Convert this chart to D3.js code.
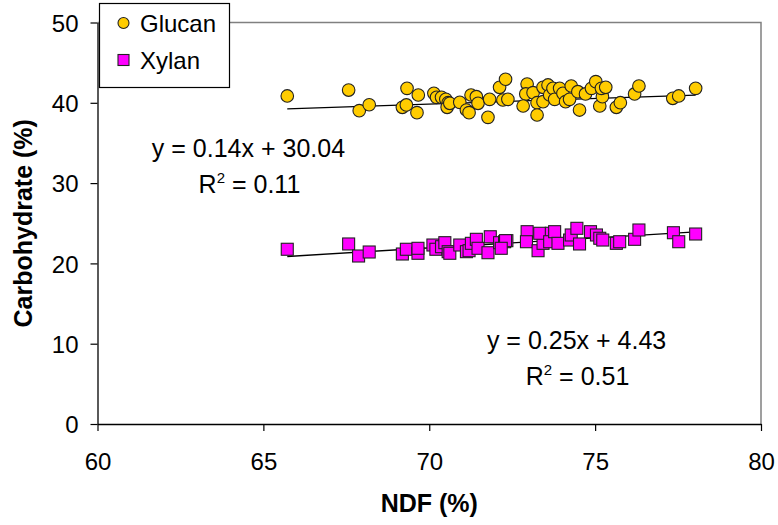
<!DOCTYPE html>
<html>
<head>
<meta charset="utf-8">
<script src="https://cdn.jsdelivr.net/npm/d3@7"></script>
<style>
  html, body { margin: 0; padding: 0; background: #fff; }
  svg { display: block; font-family: "Liberation Sans", Arial, sans-serif; }
</style>
</head>
<body>
<svg id="chart" width="778" height="525"></svg>
<script>
// NDF (%) vs glucan content (%)
const ndfGlucan = [65.72, 67.57, 67.89, 68.19, 69.19, 69.31, 69.33, 69.67, 69.63, 70.14,
  70.22, 70.37, 70.50, 70.57, 70.54, 70.62, 70.92, 71.12, 71.20, 71.26,
  71.42, 71.47, 71.77, 71.82, 72.12, 72.30, 72.22, 72.37, 72.95, 72.91,
  72.83, 73.13, 73.25, 73.25, 73.43, 73.43, 73.58, 73.63, 73.73, 73.78,
  73.93, 74.03, 74.11, 74.23, 74.28, 74.48, 74.53, 74.71, 74.89, 75.02,
  75.14, 75.22, 75.19, 75.32, 75.64, 75.76, 76.19, 76.32, 77.34, 77.52, 78.03];
const glucan = [40.85, 41.59, 39.02, 39.76, 39.44, 39.73, 41.80, 40.97, 38.77, 41.18,
  40.68, 40.68, 40.43, 40.01, 39.44, 39.94, 40.06, 39.10, 38.77, 40.97,
  40.76, 39.94, 38.19, 40.43, 41.93, 42.93, 40.35, 40.43, 42.34, 41.10,
  39.60, 41.26, 40.01, 38.48, 41.93, 40.14, 42.22, 40.97, 41.80, 40.43,
  41.80, 41.18, 40.14, 40.43, 42.09, 41.38, 39.10, 41.10, 41.80, 42.63,
  39.60, 40.76, 41.80, 41.93, 39.44, 40.01, 41.10, 42.09, 40.56, 40.85, 41.80];

// NDF (%) vs xylan content (%)
const ndfXylan = [65.72, 67.57, 67.87, 68.19, 69.19, 69.31, 69.66, 69.66, 70.11, 70.20,
  70.37, 70.47, 70.57, 70.62, 70.92, 71.12, 71.20, 71.27, 71.42, 71.47,
  71.77, 71.84, 72.12, 72.27, 72.34, 72.30, 72.17, 72.95, 72.93, 73.28,
  73.43, 73.33, 73.68, 73.63, 73.78, 73.88, 74.23, 74.28, 74.45, 74.53,
  74.86, 75.04, 75.14, 75.23, 75.64, 75.74, 76.19, 76.32, 77.36, 77.52, 78.03];
const xylan = [21.76, 22.42, 20.92, 21.42, 21.17, 21.76, 21.26, 21.88, 22.29, 21.76,
  22.08, 22.58, 21.46, 21.26, 22.29, 21.46, 21.58, 22.50, 23.00, 21.88,
  21.33, 23.32, 22.58, 22.70, 22.83, 22.83, 21.88, 23.95, 22.70, 21.58,
  22.50, 23.75, 23.75, 22.70, 23.95, 22.50, 22.91, 23.54, 24.37, 22.42,
  23.95, 23.54, 23.13, 22.91, 22.50, 22.70, 23.00, 24.16, 23.82, 22.70, 23.66];

// Linear trendlines: slope, intercept, R²
const seriesNames = ["Glucan", "Xylan"];
const fitSlope = [0.14, 0.25];
const fitIntercept = [30.04, 4.43];
const fitR2 = [0.11, 0.51];

const xTicks = [60, 65, 70, 75, 80];
const yTicks = [0, 10, 20, 30, 40, 50];

const svg = d3.select("#chart");
const plot = { left: 97.5, right: 761, top: 22.5, bottom: 424 };

const x = d3.scaleLinear().domain([60, 80]).range([plot.left, plot.right]);
const y = d3.scaleLinear().domain([0, 50]).range([plot.bottom, plot.top]);

const fontSize = 24;

// Plot frame (top and right edges)
svg.append("path")
  .attr("d", `M${plot.left},${plot.top}H${plot.right}V${plot.bottom}`)
  .attr("fill", "none")
  .attr("stroke", "#808080")
  .attr("stroke-width", 1.5);

// Axes
const xAxis = d3.axisBottom(x).tickValues(xTicks).tickSize(7).tickPadding(22).tickSizeOuter(0);
const yAxis = d3.axisLeft(y).tickValues(yTicks).tickSize(7).tickPadding(12).tickSizeOuter(0);

const gx = svg.append("g").attr("transform", `translate(0,${plot.bottom})`).call(xAxis);
const gy = svg.append("g").attr("transform", `translate(${plot.left},0)`).call(yAxis);

[gx, gy].forEach(g => {
  g.select(".domain").attr("stroke", "#000").attr("stroke-width", 1.3);
  g.selectAll(".tick line").attr("stroke", "#000").attr("stroke-width", 1.2);
  g.selectAll(".tick text")
    .attr("fill", "#000")
    .style("font-family", "'Liberation Sans', Arial, sans-serif")
    .style("font-size", fontSize + "px");
});
gx.selectAll(".tick text").attr("dy", "0.71em");
gy.selectAll(".tick text").attr("dy", "0.36em");

// Axis titles
svg.append("text")
  .attr("x", (plot.left + plot.right) / 2)
  .attr("y", 512)
  .attr("text-anchor", "middle")
  .style("font-size", "25px")
  .style("font-weight", "bold")
  .text("NDF (%)");

svg.append("text")
  .attr("transform", `translate(32,${(plot.top + plot.bottom) / 2}) rotate(-90)`)
  .attr("text-anchor", "middle")
  .style("font-size", "25px")
  .style("font-weight", "bold")
  .text("Carbohydrate (%)");

// Trendlines over each series' NDF range
const line = d3.line().x(d => x(d[0])).y(d => y(d[1]));
const ndfSets = [ndfGlucan, ndfXylan];
ndfSets.forEach((xs, i) => {
  const [lo, hi] = d3.extent(xs);
  const pts = [lo, hi].map(v => [v, fitSlope[i] * v + fitIntercept[i]]);
  svg.append("path")
    .attr("d", line(pts))
    .attr("fill", "none")
    .attr("stroke", "#000")
    .attr("stroke-width", 1.3);
});

// Glucan points
svg.append("g").selectAll("circle")
  .data(d3.zip(ndfGlucan, glucan))
  .join("circle")
  .attr("cx", d => x(d[0]))
  .attr("cy", d => y(d[1]))
  .attr("r", 6.3)
  .attr("fill", "#FFCC00")
  .attr("stroke", "#222")
  .attr("stroke-width", 1.1);

// Xylan points
const sq = 12;
svg.append("g").selectAll("rect")
  .data(d3.zip(ndfXylan, xylan))
  .join("rect")
  .attr("x", d => x(d[0]) - sq / 2)
  .attr("y", d => y(d[1]) - sq / 2)
  .attr("width", sq)
  .attr("height", sq)
  .attr("fill", "#FF00FF")
  .attr("stroke", "#222")
  .attr("stroke-width", 1.1);

// Trendline equations, anchored in data space
const eqAnchorX = [64.55, 74.44];
const eqAnchorY = [33.3, 9.4];
const fmt = d3.format(".2f");
seriesNames.forEach((name, i) => {
  const cx = x(eqAnchorX[i]);
  const cy = y(eqAnchorY[i]);
  svg.append("text")
    .attr("x", cx).attr("y", cy)
    .attr("text-anchor", "middle")
    .style("font-size", "25px")
    .text(`y = ${fmt(fitSlope[i])}x + ${fmt(fitIntercept[i])}`);
  const t = svg.append("text")
    .attr("x", cx + 1).attr("y", cy + 36)
    .attr("text-anchor", "middle")
    .style("font-size", "25px");
  t.append("tspan").text("R");
  t.append("tspan").attr("dy", -10).style("font-size", "15px").text("2");
  t.append("tspan").attr("dy", 10).text(` = ${fmt(fitR2[i])}`);
});

// Legend
const legend = svg.append("g");
legend.append("rect")
  .attr("x", 99.5).attr("y", 3.5)
  .attr("width", 130).attr("height", 84)
  .attr("fill", "#fff")
  .attr("stroke", "#000")
  .attr("stroke-width", 1.2);

const legendY = [23, 60];
legend.append("circle")
  .attr("cx", 123.5).attr("cy", legendY[0]).attr("r", 5.5)
  .attr("fill", "#FFCC00").attr("stroke", "#222").attr("stroke-width", 1.1);
legend.append("rect")
  .attr("x", 118).attr("y", legendY[1] - 5.5).attr("width", 11).attr("height", 11)
  .attr("fill", "#FF00FF").attr("stroke", "#222").attr("stroke-width", 1.1);
seriesNames.forEach((name, i) => {
  legend.append("text")
    .attr("x", 140).attr("y", legendY[i])
    .attr("dy", "0.36em")
    .style("font-size", fontSize + "px")
    .text(name);
});
</script>
</body>
</html>
